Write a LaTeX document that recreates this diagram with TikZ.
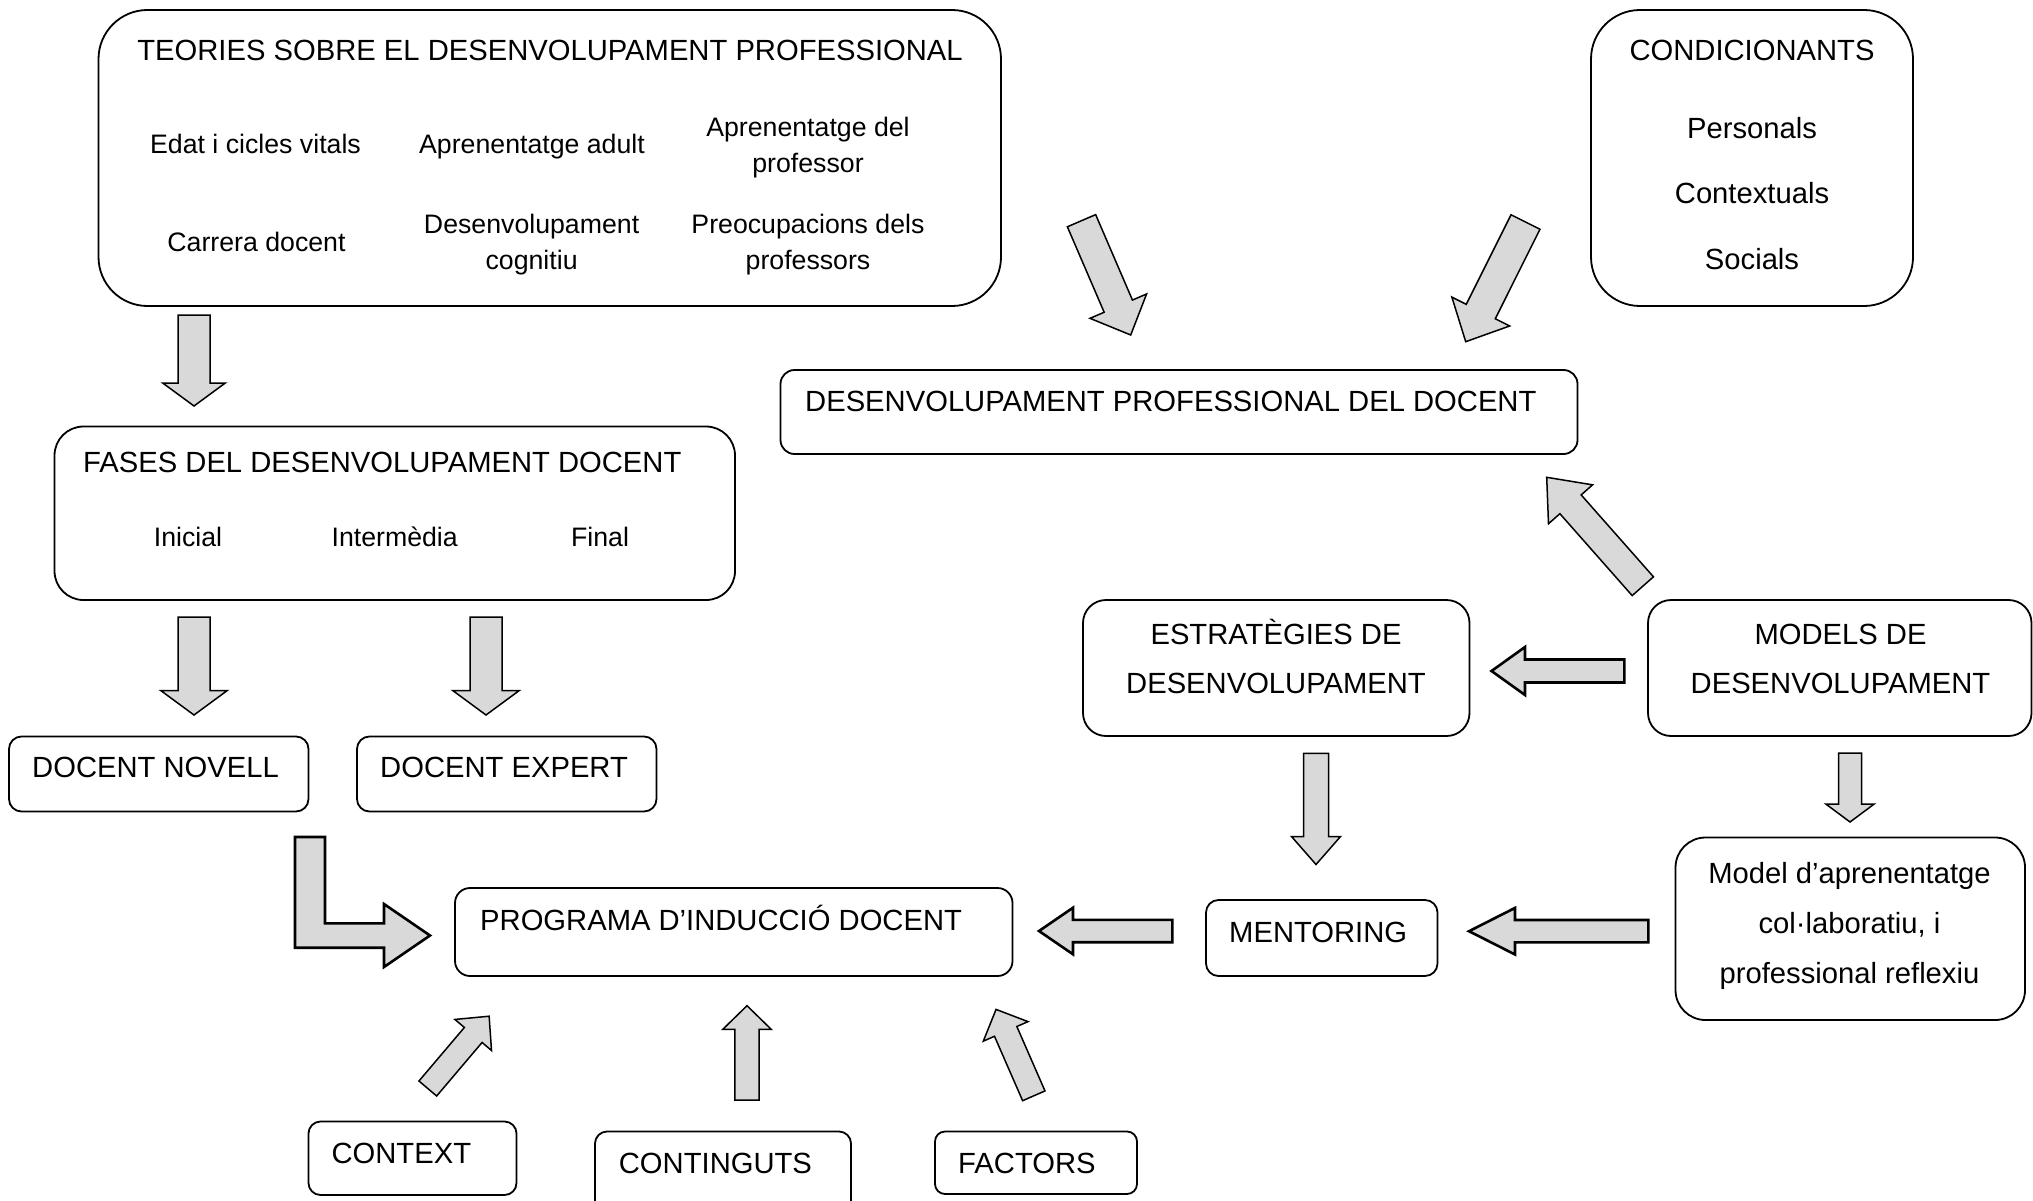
\documentclass[tikz,border=0pt]{standalone}
\usepackage{fontspec}
\setmainfont{Liberation Sans}
\usetikzlibrary{calc}
\definecolor{arrowfill}{HTML}{D9D9D9}
\definecolor{shadowgray}{HTML}{A6A6A6}

% direction and length from one named point to another
\newcommand\getdir[2]{%
  \path let \p1=($(#2)-(#1)$) in
    \pgfextra{\pgfmathsetmacro\tmpang{atan2(\y1,\x1)}%
              \pgfmathsetmacro\tmplen{veclen(\x1,\y1)}%
              \global\let\baang\tmpang\global\let\balen\tmplen};}
% block arrow: [options]{tail}{tip}{shaft half width}{head half width}{head length}
\newcommand\blockarr[6][]{%
  \getdir{#2}{#3}%
  \path[blockarrow,#1,shift={(#2)},rotate=\baang]
    (0,#4) -- ({\balen-#6},#4) -- ({\balen-#6},#5) -- (\balen,0)
    -- ({\balen-#6},-#5) -- ({\balen-#6},-#4) -- (0,-#4) -- cycle;}
% block arrow with a drop shadow
\newcommand\sblockarr[6][]{%
  \blockarr[arrowshadow,shift={(2,3)}]{#2}{#3}{#4}{#5}{#6}%
  \blockarr[#1]{#2}{#3}{#4}{#5}{#6}}

\begin{document}
\begin{tikzpicture}[x=1pt,y=-1pt,
  box/.style={draw=black, line width=1.8pt, rounded corners=#1, inner sep=0pt, outer sep=0pt},
  big/.style={font=\fontsize{29.2}{35}\selectfont, inner sep=0pt},
  small/.style={font=\fontsize{26.7}{32}\selectfont, inner sep=0pt},
  blockarrow/.style={draw=black, fill=arrowfill, line width=1.5pt, line join=miter},
  heavy/.style={line width=2.6pt},
  arrowshadow/.style={draw=none, fill=shadowgray},
]
\fill[white] (0,0) rectangle (2033,1201);
\useasboundingbox (0,0) rectangle (2033,1201);

% ---------- boxes ----------
\node[box=49pt, minimum width=902.5pt, minimum height=296pt] (teo) at (549.75,158) {};
\node[box=49pt, minimum width=322pt, minimum height=296pt] (cond) at (1752,158) {};
\node[box=14pt, minimum width=797pt, minimum height=84pt] (dpd) at (1179,412) {};
\node[box=29pt, minimum width=680.5pt, minimum height=173.5pt] (fases) at (394.75,513.25) {};
\node[box=12.5pt, minimum width=299.5pt, minimum height=75pt] (nov) at (158.75,774) {};
\node[box=12.5pt, minimum width=299.5pt, minimum height=75pt] (exp) at (506.75,774) {};
\node[box=15pt, minimum width=557.5pt, minimum height=88pt] (prog) at (733.75,932) {};
\node[box=12pt, minimum width=208pt, minimum height=73.5pt] (ctx) at (412.5,1158.25) {};
\node[box=12pt, minimum width=256pt, minimum height=83.5pt] (cont) at (723,1173.25) {};
\node[box=10pt, minimum width=202pt, minimum height=62.5pt] (fac) at (1036,1162.75) {};
\node[box=12.5pt, minimum width=231.5pt, minimum height=76pt] (ment) at (1321.75,938) {};
\node[box=23pt, minimum width=386.5pt, minimum height=136pt] (estr) at (1276.25,668) {};
\node[box=23pt, minimum width=383.5pt, minimum height=136pt] (mod) at (1839.75,668) {};
\node[box=30pt, minimum width=349.5pt, minimum height=182.5pt] (mcol) at (1850.25,928.75) {};

% ---------- texts ----------
\node[big, anchor=base] (teoT) at (550,61) {TEORIES SOBRE EL DESENVOLUPAMENT PROFESSIONAL};
\node[small, anchor=base] (teo1) at (255.5,154) {Edat i cicles vitals};
\node[small, anchor=base] (teo2) at (532,154) {Aprenentatge adult};
\node[small, anchor=base] (teo3a) at (808,137) {Aprenentatge del};
\node[small, anchor=base] (teo3b) at (808,173) {professor};
\node[small, anchor=base] (teo4) at (256.5,251) {Carrera docent};
\node[small, anchor=base] (teo5a) at (531.6,233) {Desenvolupament};
\node[small, anchor=base] (teo5b) at (531.6,269) {cognitiu};
\node[small, anchor=base] (teo6a) at (808,233) {Preocupacions dels};
\node[small, anchor=base] (teo6b) at (808,269) {professors};

\node[big, anchor=base] (condT) at (1752,61) {CONDICIONANTS};
\node[big, anchor=base] (cond1) at (1752,139) {Personals};
\node[big, anchor=base] (cond2) at (1752,204) {Contextuals};
\node[big, anchor=base] (cond3) at (1752,269) {Socials};

\node[big, anchor=base west] (dpdT) at (805,411) {DESENVOLUPAMENT PROFESSIONAL DEL DOCENT};

\node[big, anchor=base west] (fasesT) at (83,472.7) {FASES DEL DESENVOLUPAMENT DOCENT};
\node[small, anchor=base] (fases1) at (188,546) {Inicial};
\node[small, anchor=base] (fases2) at (394.7,546) {Intermèdia};
\node[small, anchor=base] (fases3) at (600,546) {Final};

\node[big, anchor=base west] (novT) at (32,777) {DOCENT NOVELL};
\node[big, anchor=base west] (expT) at (380,777) {DOCENT EXPERT};
\node[big, anchor=base west] (progT) at (480,930) {PROGRAMA D’INDUCCIÓ DOCENT};
\node[big, anchor=base west] (mentT) at (1229,942) {MENTORING};
\node[big, anchor=base west] (ctxT) at (331.4,1163) {CONTEXT};
\node[big, anchor=base west] (contT) at (618.7,1173) {CONTINGUTS};
\node[big, anchor=base west] (facT) at (958,1173) {FACTORS};

\node[big, anchor=base] (estrTa) at (1276,644) {ESTRATÈGIES DE};
\node[big, anchor=base] (estrTb) at (1276,693) {DESENVOLUPAMENT};
\node[big, anchor=base] (modTa) at (1840.5,644) {MODELS DE};
\node[big, anchor=base] (modTb) at (1840.5,693) {DESENVOLUPAMENT};
\node[big, anchor=base] (mcolTa) at (1849.5,883) {Model d’aprenentatge};
\node[big, anchor=base] (mcolTb) at (1849.5,933) {col·laboratiu, i};
\node[big, anchor=base] (mcolTc) at (1849.5,983) {professional reflexiu};

% ---------- arrow end points ----------
\coordinate (a1s) at (194,315);      \coordinate (a1e) at (194,406);
\coordinate (a2s) at (194,617);      \coordinate (a2e) at (194,715);
\coordinate (a3s) at (486,617);      \coordinate (a3e) at (486,715);
\coordinate (a4s) at (1081.5,220.7); \coordinate (a4e) at (1130.7,335);
\coordinate (a5s) at (1525.5,222);   \coordinate (a5e) at (1465.7,341.7);
\coordinate (a6s) at (1642.8,586.2); \coordinate (a6e) at (1546.7,477.3);
\coordinate (a7s) at (1624.3,671);   \coordinate (a7e) at (1491.5,671);
\coordinate (a8s) at (1316,753.3);   \coordinate (a8e) at (1316,864.5);
\coordinate (a9s) at (1850,753);     \coordinate (a9e) at (1850,822);
\coordinate (a10s) at (1648.3,931.2);\coordinate (a10e) at (1469,931.2);
\coordinate (a11s) at (1172.3,931);  \coordinate (a11e) at (1039,931);
\coordinate (a12s) at (310,837);     \coordinate (a12e) at (430,935.5);
\coordinate (a13s) at (427.8,1088.5);\coordinate (a13e) at (489.3,1016);
\coordinate (a14s) at (747,1100);    \coordinate (a14e) at (747,1005.7);
\coordinate (a15s) at (1033.8,1095.8);\coordinate (a15e) at (996,1009.3);

% ---------- block arrows ----------
\blockarr{a1s}{a1e}{16}{31.3}{23}
\sblockarr{a2s}{a2e}{16}{33.3}{24.5}
\sblockarr{a3s}{a3e}{16}{33.3}{24.5}
\blockarr{a4s}{a4e}{15.4}{30.8}{31.4}
\blockarr{a5s}{a5e}{16.2}{32.3}{33.7}
\blockarr{a6s}{a6e}{14.2}{29.4}{36}
\sblockarr[heavy]{a7s}{a7e}{11.5}{24}{33.5}
\sblockarr{a8s}{a8e}{12.5}{24.5}{28}
\sblockarr{a9s}{a9e}{11.5}{24.2}{18}
\sblockarr[heavy]{a10s}{a10e}{11.2}{23.3}{46}
\sblockarr[heavy]{a11s}{a11e}{11.2}{23.3}{34}
\blockarr{a13s}{a13e}{11.6}{24}{24.6}
\blockarr{a14s}{a14e}{12.2}{24.2}{23.6}
\blockarr{a15s}{a15e}{12.2}{24.4}{24}

% bent arrow from the novice teacher box to the induction programme
\foreach \sty/\dx/\dy in {arrowshadow/2/3, heavy/0/0}{
  \path[blockarrow, \sty, shift={(\dx,\dy)}, shift={(a12s)}]
    let \p1=($(a12e)-(a12s)$) in
    (-15pt,0pt) -- (15pt,0pt) -- (15pt,\y1+12.2pt) -- (\x1-46pt,\y1+12.2pt)
    -- (\x1-46pt,\y1+31.5pt) -- (\x1,\y1) -- (\x1-46pt,\y1-31.5pt)
    -- (\x1-46pt,\y1-12.2pt) -- (-15pt,\y1-12.2pt) -- cycle;
}
\end{tikzpicture}
\end{document}
